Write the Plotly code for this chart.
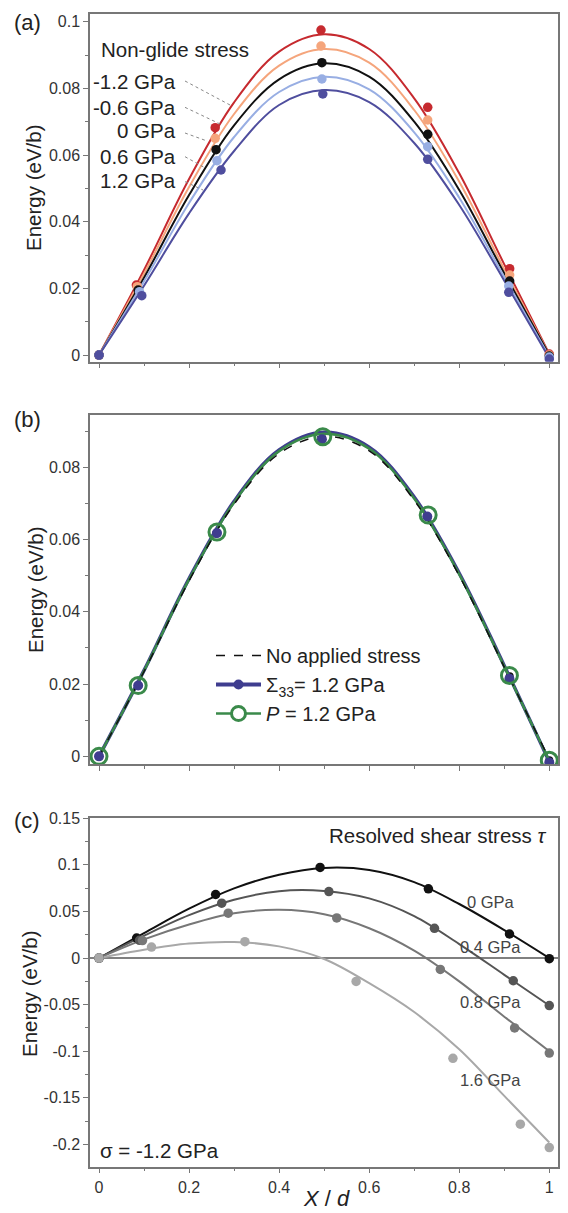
import plotly.graph_objects as go

# The page body adds an 8px margin; lay the figure out in target-page pixels
OX, OY = 8, 8
W, H = 560, 1205
FONT = "Liberation Sans, Arial, Helvetica, sans-serif"

def PX(X):
    return (X - OX) / W

def PY(Y):
    return 1 - (Y - OY) / H

# ---------------- Panel (a) data ----------------
a_labels = ["-1.2 GPa", "-0.6 GPa", "0 GPa", "0.6 GPa", "1.2 GPa"]
a_colors = ["#c62a2f", "#f5a57c", "#111111", "#98aee3", "#4f4e9e"]
a_px = [
    [0, 0.083, 0.258, 0.493, 0.73, 0.912, 1.0],
    [0, 0.085, 0.258, 0.493, 0.73, 0.912, 1.0],
    [0, 0.087, 0.260, 0.495, 0.73, 0.912, 1.0],
    [0, 0.090, 0.262, 0.495, 0.73, 0.910, 1.0],
    [0, 0.095, 0.271, 0.497, 0.73, 0.910, 1.0],
]
a_py = [
    [0, 0.0210, 0.0682, 0.0975, 0.0743, 0.0259, 0.0003],
    [0, 0.0205, 0.0650, 0.0927, 0.0705, 0.0240, 0.0000],
    [0, 0.0195, 0.0616, 0.0877, 0.0662, 0.0222, -0.0003],
    [0, 0.0190, 0.0583, 0.0828, 0.0625, 0.0207, -0.0006],
    [0, 0.0178, 0.0555, 0.0783, 0.0587, 0.0188, -0.0012],
]
curve_x = [0, 0.1, 0.2, 0.3, 0.4, 0.5, 0.6, 0.7, 0.8, 0.9, 1.0]
a_cy = [
    [0, 0.0255, 0.0528, 0.0758, 0.0910, 0.0962, 0.0918, 0.0770, 0.0545, 0.0272, 0.0003],
    [0, 0.0244, 0.0504, 0.0723, 0.0868, 0.0918, 0.0877, 0.0735, 0.0520, 0.0257, 0.0001],
    [0, 0.0232, 0.0480, 0.0689, 0.0827, 0.0875, 0.0835, 0.0700, 0.0495, 0.0245, 0.0000],
    [0, 0.0221, 0.0456, 0.0654, 0.0789, 0.0835, 0.0797, 0.0668, 0.0472, 0.0234, -0.0005],
    [0, 0.0208, 0.0425, 0.0612, 0.0750, 0.0795, 0.0759, 0.0636, 0.0450, 0.0223, -0.0010],
]

# ---------------- Panel (b) data ----------------
b_none_px = [0, 0.087, 0.260, 0.495, 0.73, 0.912, 1.0]
b_none_py = [0, 0.0195, 0.0616, 0.0877, 0.0662, 0.0222, -0.0011]
b_s33_px = [0, 0.087, 0.262, 0.495, 0.729, 0.9115, 1.0]
b_s33_py = [0, 0.0196, 0.0618, 0.0878, 0.0664, 0.0215, -0.0017]
b_p_px = [0, 0.087, 0.262, 0.497, 0.731, 0.9115, 1.0]
b_p_py = [0, 0.0196, 0.0621, 0.0885, 0.0668, 0.0224, -0.0011]
b_none_cy = [0, 0.0235, 0.0486, 0.0698, 0.0838, 0.0886, 0.0846, 0.0709, 0.0500, 0.0247, -0.0008]
b_s33_cy = [0, 0.0238, 0.0492, 0.0706, 0.0848, 0.0897, 0.0856, 0.0718, 0.0507, 0.0251, -0.0015]
b_p_cy = [0, 0.0237, 0.0490, 0.0703, 0.0845, 0.0893, 0.0852, 0.0714, 0.0504, 0.0249, -0.0012]

# ---------------- Panel (c) data ----------------
c_labels = ["0 GPa", "0.4 GPa", "0.8 GPa", "1.6 GPa"]
c_colors = ["#111111", "#555555", "#777777", "#a8a8a8"]
c_px = [
    [0, 0.0836, 0.259, 0.491, 0.7315, 0.9116, 1.0],
    [0, 0.090, 0.2725, 0.5105, 0.745, 0.920, 1.0],
    [0, 0.0965, 0.287, 0.528, 0.758, 0.923, 1.0],
    [0, 0.1166, 0.324, 0.571, 0.786, 0.9357, 1.0],
]
c_py = [
    [0, 0.0215, 0.0682, 0.0973, 0.0743, 0.0258, -0.0007],
    [0, 0.0190, 0.0589, 0.0714, 0.0319, -0.0244, -0.0510],
    [0, 0.0187, 0.0481, 0.0431, -0.0122, -0.0750, -0.1020],
    [0, 0.0118, 0.0176, -0.0251, -0.1077, -0.1784, -0.2035],
]
c_cy = [
    [0, 0.0268, 0.0530, 0.0748, 0.0895, 0.0967, 0.0945, 0.0815, 0.0580, 0.0300, 0.0000],
    [0, 0.0240, 0.0460, 0.0625, 0.0718, 0.0720, 0.0640, 0.0450, 0.0150, -0.0180, -0.0510],
    [0, 0.0200, 0.0360, 0.0480, 0.0517, 0.0470, 0.0320, 0.0080, -0.0250, -0.0630, -0.1000],
    [0, 0.0090, 0.0155, 0.0172, 0.0125, -0.0010, -0.0270, -0.0580, -0.0980, -0.1480, -0.1980],
]

x_ticks = [0, 0.2, 0.4, 0.6, 0.8, 1]
x_ticktext = ["0", "0.2", "0.4", "0.6", "0.8", "1"]
a_yticks = [0, 0.02, 0.04, 0.06, 0.08, 0.1]
a_yticktext = ["0", "0.02", "0.04", "0.06", "0.08", "0.1"]
b_yticks = [0, 0.02, 0.04, 0.06, 0.08]
b_yticktext = ["0", "0.02", "0.04", "0.06", "0.08"]
c_yticks = [-0.2, -0.15, -0.1, -0.05, 0, 0.05, 0.1, 0.15]
c_yticktext = ["-0.2", "-0.15", "-0.1", "-0.05", "0", "0.05", "0.1", "0.15"]

fig = go.Figure()

# (a)
for i in range(5):
    fig.add_trace(go.Scatter(x=curve_x, y=a_cy[i], mode="lines",
                             line=dict(color=a_colors[i], width=2, shape="spline", smoothing=1.0),
                             xaxis="x", yaxis="y", showlegend=False, hoverinfo="skip"))
for i in range(5):
    fig.add_trace(go.Scatter(x=a_px[i], y=a_py[i], mode="markers", marker=dict(color=a_colors[i], size=9.5),
                             xaxis="x", yaxis="y", showlegend=False, name=a_labels[i]))

# (b)
fig.add_trace(go.Scatter(x=b_none_px, y=b_none_py, mode="markers", marker=dict(color="#111111", size=8),
                         xaxis="x2", yaxis="y2", showlegend=False))
fig.add_trace(go.Scatter(x=curve_x, y=b_s33_cy, mode="lines", line=dict(color="#3f3d8f", width=3.5, shape="spline"),
                         xaxis="x2", yaxis="y2", showlegend=False))
fig.add_trace(go.Scatter(x=curve_x, y=b_p_cy, mode="lines", line=dict(color="#3a8a4a", width=2.5, shape="spline"),
                         xaxis="x2", yaxis="y2", showlegend=False))
fig.add_trace(go.Scatter(x=curve_x, y=b_none_cy, mode="lines",
                         line=dict(color="#111111", width=1.5, dash="dash", shape="spline"),
                         xaxis="x2", yaxis="y2", showlegend=False))
fig.add_trace(go.Scatter(x=b_s33_px, y=b_s33_py, mode="markers", marker=dict(color="#3f3d8f", size=10),
                         xaxis="x2", yaxis="y2", showlegend=False))
fig.add_trace(go.Scatter(x=b_p_px, y=b_p_py, mode="markers",
                         marker=dict(color="rgba(0,0,0,0)", size=16, line=dict(color="#3a8a4a", width=3)),
                         xaxis="x2", yaxis="y2", showlegend=False))
# legend entries (no data of their own)
fig.add_trace(go.Scatter(x=[None], y=[None], mode="lines", line=dict(color="#111111", width=1.5, dash="dash"),
                         name="No applied stress", xaxis="x2", yaxis="y2", legendgroup="g1"))
fig.add_trace(go.Scatter(x=[None], y=[None], mode="lines+markers", line=dict(color="#3f3d8f", width=4),
                         marker=dict(color="#3f3d8f", size=10),
                         name="Σ<sub>33</sub>= 1.2 GPa", xaxis="x2", yaxis="y2", legendgroup="g2"))
fig.add_trace(go.Scatter(x=[None], y=[None], mode="lines+markers", line=dict(color="#3a8a4a", width=2.5),
                         marker=dict(color="white", size=14, line=dict(color="#3a8a4a", width=3)),
                         name="<i>P</i> = 1.2 GPa", xaxis="x2", yaxis="y2", legendgroup="g3"))

# (c)
for i in range(4):
    fig.add_trace(go.Scatter(x=curve_x, y=c_cy[i], mode="lines", line=dict(color=c_colors[i], width=2, shape="spline"),
                             xaxis="x3", yaxis="y3", showlegend=False, hoverinfo="skip"))
for i in range(4):
    fig.add_trace(go.Scatter(x=c_px[i], y=c_py[i], mode="markers", marker=dict(color=c_colors[i], size=9.5),
                             xaxis="x3", yaxis="y3", showlegend=False, name=c_labels[i]))

AX = "#777777"
TICKF = dict(family=FONT, size=16, color="#333333")

def xax(anchor, labels):
    return dict(range=[-0.02, 1.02], domain=[PX(90), PX(558.3)], anchor=anchor,
                tickvals=x_ticks, ticktext=x_ticktext, showticklabels=labels,
                ticks="outside", ticklen=5, tickwidth=1.2, tickcolor=AX,
                minor=dict(dtick=0.1, tick0=0, ticks="outside", ticklen=3, tickcolor=AX, tickwidth=1),
                showline=True, linecolor=AX, linewidth=1.5, mirror=True,
                showgrid=False, zeroline=False, tickfont=TICKF, automargin=False)

def yax(rng, top, bot, anchor, tv, tt, minor_dt, zl=False):
    return dict(range=rng, domain=[PY(bot), PY(top)], anchor=anchor, tickvals=tv, ticktext=tt,
                ticks="outside", ticklen=5, tickwidth=1.2, tickcolor=AX,
                minor=dict(dtick=minor_dt, tick0=0, ticks="outside", ticklen=3, tickcolor=AX, tickwidth=1),
                showline=True, linecolor=AX, linewidth=1.5, mirror=True,
                showgrid=False, zeroline=zl, zerolinecolor="#808080", zerolinewidth=1.5,
                tickfont=TICKF, automargin=False)

fig.update_layout(
    width=W, height=H, margin=dict(l=0, r=0, t=0, b=0),
    paper_bgcolor="white", plot_bgcolor="white",
    font=dict(family=FONT, size=20, color="#222222"),
    xaxis=xax("y", False),
    yaxis=yax([-0.002, 0.1023], 14, 361.7, "x", a_yticks, a_yticktext, 0.01),
    xaxis2=xax("y2", False),
    yaxis2=yax([-0.0022, 0.0945], 415, 764.3, "x2", b_yticks, b_yticktext, 0.01),
    xaxis3=xax("y3", True),
    yaxis3=yax([-0.224, 0.15], 818.3, 1166.7, "x3", c_yticks, c_yticktext, 0.025, zl=True),
    legend=dict(x=PX(211), y=PY(636), xanchor="left", yanchor="top", bgcolor="rgba(0,0,0,0)",
                font=dict(family=FONT, size=20, color="#222222"), itemwidth=45, tracegroupgap=0,
                traceorder="grouped"),
    showlegend=True,
)

ann = []
def pa(text, x, y, size=20.5, xanchor="center", color="#222222", xref="paper", yref="paper", yanchor="middle", **kw):
    ann.append(dict(text=text, x=x, y=y, xref=xref, yref=yref, xanchor=xanchor, yanchor=yanchor,
                    showarrow=False, font=dict(family=FONT, size=size, color=color), **kw))

# panel letters
pa("(a)", PX(12), PY(8), size=22, xanchor="left", yanchor="top")
pa("(b)", PX(12), PY(419), size=22, xanchor="left")
pa("(c)", PX(12), PY(820), size=22, xanchor="left")
# y titles
pa("Energy (eV/b)", PX(33), PY(188), size=20.5, textangle=-90)
pa("Energy (eV/b)", PX(35), PY(590), size=20.5, textangle=-90)
pa("Energy (eV/b)", PX(29), PY(994), size=20.5, textangle=-90)
# x title
pa("<i>X</i> / <i>d</i>", PX(326), PY(1198), size=22)

# (a) labels
pa("Non-glide stress", PX(99), PY(50), xanchor="left")
a_label_y = [81, 107, 131, 156, 181]
for lab, yy in zip(a_labels, a_label_y):
    pa(lab, PX(178), PY(yy), xanchor="right")

# (c) labels
pa("Resolved shear stress <i>τ</i>", PX(549), PY(835), xanchor="right")
pa("σ = -1.2 GPa", PX(98), PY(1150), xanchor="left")
c_lab_y = [0.0603, 0.0118, -0.0467, -0.131]
for lab, yy in zip(c_labels, c_lab_y):
    pa(lab, 0.87, yy, size=16.5, xref="x3", yref="y3", color="#444444")

fig.update_layout(annotations=ann)

# leader lines in (a)
leaders = [
    ((0.191, 0.0822), (0.291, 0.0750)),
    ((0.191, 0.0743), (0.269, 0.0693)),
    ((0.191, 0.0666), (0.240, 0.0642)),
    ((0.191, 0.0595), (0.236, 0.0561)),
    ((0.191, 0.0520), (0.231, 0.0495)),
]
for (x0, y0), (x1, y1) in leaders:
    fig.add_shape(type="line", x0=x0, y0=y0, x1=x1, y1=y1, xref="x", yref="y",
                  line=dict(color="#888888", width=1, dash="dot"))

fig.write_html("out.html")
